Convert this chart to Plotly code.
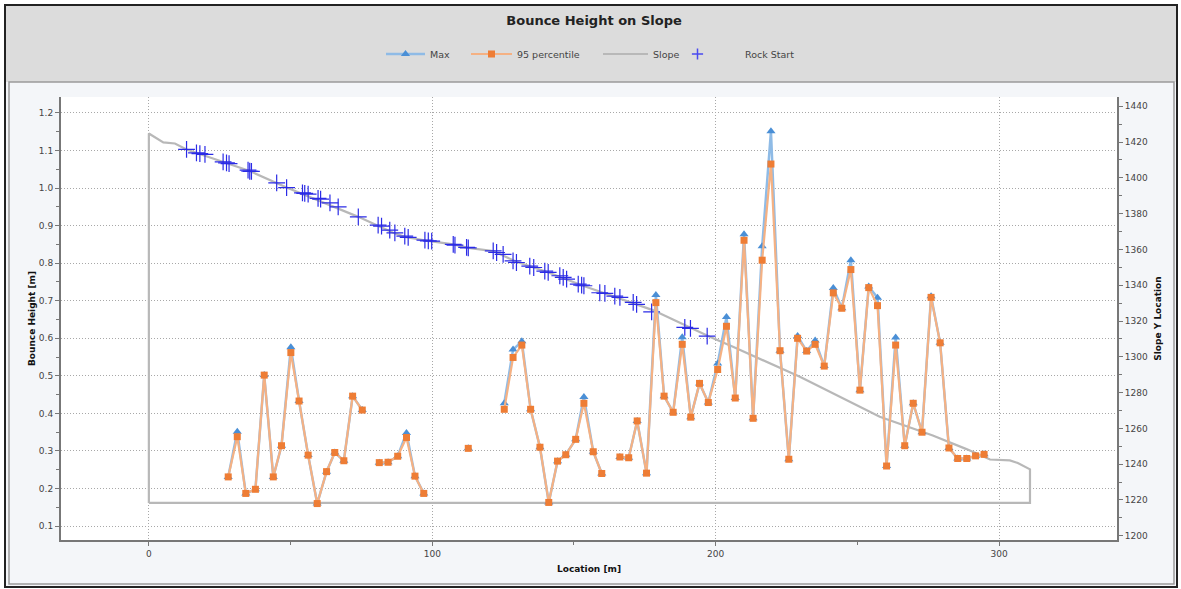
import plotly.graph_objects as go

# ---------------- data ----------------
location = [28.0, 31.2, 34.2, 37.6, 40.7, 43.9, 46.8, 50.1, 53.0, 56.2, 59.4, 62.7, 65.6, 68.8, 71.9, 75.3,
            78.3,
            81.3, 84.4, 87.8, 90.9, 93.9, 97.0,
            100.0,
            112.7,
            115.8,
            125.4, 128.5, 131.6, 134.7, 138.0, 141.1, 144.2, 147.1, 150.6, 153.5, 156.8, 159.8,
            163.0,
            166.2, 169.3, 172.3, 175.6, 178.9, 181.8, 185.0, 188.2, 191.2, 194.3, 197.4, 200.7, 203.8,
            206.9, 210.0, 213.2, 216.4, 219.5, 222.7, 225.8, 228.9, 232.1, 235.1, 238.3, 241.5, 244.5,
            247.7, 250.9, 254.0, 257.1, 260.3, 263.5, 266.7, 269.7, 272.8, 276.0, 279.2, 282.3, 285.4,
            288.6, 291.7, 294.7]

p95_height = [0.231, 0.338, 0.187, 0.198, 0.502, 0.231, 0.314, 0.562, 0.433, 0.289, 0.160, 0.245, 0.296, 0.274, 0.446, 0.409,
              None,
              0.269, 0.270, 0.286, 0.336, 0.233, 0.187,
              None,
              0.307,
              None,
              0.411, 0.549, 0.582, 0.411, 0.310, 0.163, 0.273, 0.290, 0.331, 0.427, 0.298, 0.240,
              None,
              0.284, 0.282, 0.380, 0.241, 0.695, 0.446, 0.403, 0.584, 0.390, 0.480, 0.429, 0.517, 0.632,
              0.441, 0.861, 0.387, 0.808, 1.064, 0.567, 0.278, 0.600, 0.566, 0.584, 0.526, 0.721, 0.680,
              0.783, 0.462, 0.735, 0.687, 0.260, 0.582, 0.314, 0.427, 0.350, 0.709, 0.588, 0.308, 0.280,
              0.280, 0.287, 0.291]

max_height = [0.231, 0.351, 0.187, 0.198, 0.502, 0.231, 0.314, 0.576, 0.433, 0.289, 0.160, 0.245, 0.296, 0.274, 0.446, 0.409,
              None,
              0.269, 0.270, 0.286, 0.348, 0.233, 0.187,
              None,
              0.307,
              None,
              0.427, 0.570, 0.592, 0.411, 0.310, 0.163, 0.273, 0.290, 0.331, 0.444, 0.298, 0.240,
              None,
              0.284, 0.282, 0.380, 0.241, 0.715, 0.446, 0.403, 0.603, 0.390, 0.480, 0.429, 0.533, 0.657,
              0.441, 0.877, 0.387, 0.845, 1.151, 0.567, 0.278, 0.606, 0.566, 0.594, 0.526, 0.734, 0.680,
              0.808, 0.462, 0.738, 0.708, 0.260, 0.602, 0.314, 0.427, 0.350, 0.712, 0.588, 0.308, 0.280,
              0.280, 0.287, 0.291]

slope_x = [0.0, 0.0, 5.1, 9.2, 13.3, 35.6, 48.6, 73.9, 86.2, 90.3, 99.2, 107.4, 112.7, 121.5, 129.7,
           140.3, 153.2, 166.2, 177.8, 197.9, 206.1, 229.7, 257.9, 276.6, 288.5, 296.8, 303.8, 306.6,
           309.1, 310.9, 310.9, 0.0]
slope_y = [1218.3, 1424.8, 1419.8, 1419.2, 1415.9, 1403.8, 1394.6, 1378.2, 1369.3, 1367.0, 1364.6,
           1362.8, 1360.9, 1359.1, 1353.1, 1347.5, 1339.7, 1332.6, 1326.1, 1311.2, 1305.6, 1288.8,
           1266.5, 1256.0, 1248.4, 1242.6, 1242.1, 1240.6, 1238.4, 1237.1, 1218.3, 1218.3]

rock_x = [13.3, 16.8, 18.0, 19.8, 26.2, 27.4, 28.3, 35.0, 35.6, 36.2, 45.1, 48.6, 54.2, 55.0, 56.2,
          59.7, 60.6, 63.9, 66.8, 73.9, 80.9, 82.1, 85.0, 86.8, 90.3, 91.5, 97.4, 98.6, 99.8, 107.4,
          108.0, 112.1, 112.7, 121.5, 122.7, 125.0, 128.5, 129.7, 134.4, 135.8, 139.7, 140.9, 145.0,
          146.2, 147.4, 151.5, 152.7, 153.5, 159.1, 160.9, 164.4, 166.2, 170.9, 172.1, 177.4, 189.1,
          191.1, 197.0]
rock_y = [1415.9, 1414.0, 1413.6, 1413.1, 1408.9, 1408.4, 1408.0, 1404.3, 1403.7, 1403.6, 1397.2,
          1394.6, 1391.6, 1391.3, 1390.9, 1388.5, 1388.1, 1386.0, 1383.8, 1378.2, 1373.6, 1373.0,
          1370.8, 1369.3, 1367.4, 1366.7, 1365.2, 1364.8, 1364.6, 1362.8, 1362.4, 1361.1, 1360.9,
          1359.2, 1358.3, 1357.2, 1353.6, 1352.7, 1350.7, 1349.9, 1347.9, 1347.2, 1345.3, 1344.4,
          1343.4, 1340.6, 1340.1, 1339.7, 1335.8, 1335.4, 1333.9, 1333.2, 1330.4, 1329.3, 1325.1,
          1316.4, 1315.9, 1311.6]

x_ticks = [0, 100, 200, 300]

# ---------------- figure ----------------
W, H = 1181, 589
L, R, T, B = 61, 64, 97, 49
pw, ph = W - L - R, H - T - B


def px(x):
    return (x - L) / pw


def py(y):
    return (H - B - y) / ph


FONT = "DejaVu Sans"
LEG_FONT = dict(family=FONT, size=9.5, color="#444444")
C_SLOPE = "#b8b8b8"
C_ROCK = "#2b2be6"

fig = go.Figure()

fig.add_trace(go.Scatter(
    x=slope_x, y=slope_y, name="Slope", mode="lines", yaxis="y",
    line=dict(color=C_SLOPE, width=2.2), legend="legend3"))

fig.add_trace(go.Scatter(
    x=rock_x, y=rock_y, name="Rock Start", mode="markers", yaxis="y",
    marker=dict(symbol="cross-thin", size=12, line=dict(color=C_ROCK, width=1.2)),
    showlegend=False))
# legend entry for Rock Start (smaller marker like the original legend)
fig.add_trace(go.Scatter(
    x=[None], y=[None], name="Rock Start", mode="markers", yaxis="y",
    marker=dict(symbol="cross-thin", size=8, line=dict(color="#4a4af0", width=1.5)),
    legend="legend4"))

fig.add_trace(go.Scatter(
    x=location, y=max_height, name="Max", mode="lines+markers", yaxis="y2",
    line=dict(color="#8fbbe6", width=2.5),
    marker=dict(symbol="triangle-up", size=8, color="#4a8fd6"),
    connectgaps=False, legend="legend"))

fig.add_trace(go.Scatter(
    x=location, y=p95_height, name="95 percentile", mode="lines+markers", yaxis="y2",
    line=dict(color="#f5b183", width=2.2),
    marker=dict(symbol="square", size=7, color="#ee7d35"),
    connectgaps=False, legend="legend2"))

axis_line = "#777777"
tick_font = dict(family=FONT, size=9, color="#444444")
title_font = dict(family=FONT, size=9, color="#111111")
GRID = dict(showgrid=True, gridcolor="#a8a8a8", griddash="1px,2px", gridwidth=1)


def leg(x_left, itemwidth):
    return dict(orientation="h", x=px(x_left), xanchor="left", y=py(54), yanchor="middle",
                bgcolor="rgba(0,0,0,0)", font=LEG_FONT, itemwidth=itemwidth,
                borderwidth=0)


fig.update_layout(
    width=W, height=H,
    margin=dict(l=L, r=R, t=T, b=B, autoexpand=False),
    paper_bgcolor="white",
    plot_bgcolor="white",
    showlegend=True,
    title=dict(text="<b>Bounce Height on Slope</b>", x=0.503, xref="container", xanchor="center",
               y=1 - 20 / H, yref="container", yanchor="middle",
               font=dict(family=FONT, size=13, color="#222222")),
    legend=leg(381, 39),
    legend2=leg(466, 41),
    legend3=leg(598, 45),
    legend4=leg(650, 85),
    xaxis=dict(range=[-31, 341.6], tickvals=x_ticks, ticktext=[str(v) for v in x_ticks],
               **GRID,
               zeroline=False, showline=True, linecolor=axis_line, linewidth=2,
               ticks="outside", ticklen=4, tickcolor=axis_line, tickfont=tick_font,
               minor=dict(dtick=50, tick0=0, ticks="outside", ticklen=3, tickcolor=axis_line, showgrid=False),
               title=dict(text="<b>Location [m]</b>", font=title_font, standoff=8)),
    yaxis=dict(side="right", range=[1197.6, 1445.2], dtick=20, tick0=1200,
               showgrid=False, zeroline=False, showline=True, linecolor=axis_line, linewidth=2,
               ticks="outside", ticklen=4, tickcolor=axis_line, tickfont=tick_font,
               minor=dict(dtick=10, ticks="outside", ticklen=3, tickcolor=axis_line),
               title=dict(text="<b>Slope Y Location</b>", font=title_font, standoff=8)),
    yaxis2=dict(side="left", overlaying="y", range=[0.063, 1.2425], dtick=0.1, tick0=0,
                tickformat=".1f",
                **GRID,
                zeroline=False, showline=True, linecolor=axis_line, linewidth=2,
                ticks="outside", ticklen=4, tickcolor=axis_line, tickfont=tick_font,
                minor=dict(dtick=0.05, tick0=0, ticks="outside", ticklen=3, tickcolor=axis_line, showgrid=False),
                title=dict(text="<b>Bounce Height [m]</b>", font=title_font, standoff=2)),
    shapes=[
        dict(type="rect", xref="paper", yref="paper", layer="below",
             x0=px(5), x1=px(1177), y0=py(587), y1=py(5),
             fillcolor="#f4f6f9", line=dict(color="#222222", width=2)),
        dict(type="rect", xref="paper", yref="paper", layer="below",
             x0=px(6), x1=px(1176), y0=py(82), y1=py(6),
             fillcolor="#dcdcdc", line=dict(width=0)),
        dict(type="rect", xref="paper", yref="paper", layer="below",
             x0=px(9), x1=px(1174), y0=py(584), y1=py(82),
             fillcolor="rgba(0,0,0,0)", line=dict(color="#9a9a9a", width=1.5)),
        dict(type="rect", xref="paper", yref="paper", layer="below",
             x0=0, x1=1, y0=0, y1=1, fillcolor="white", line=dict(width=0)),
    ],
)

fig.write_html("out.html")
